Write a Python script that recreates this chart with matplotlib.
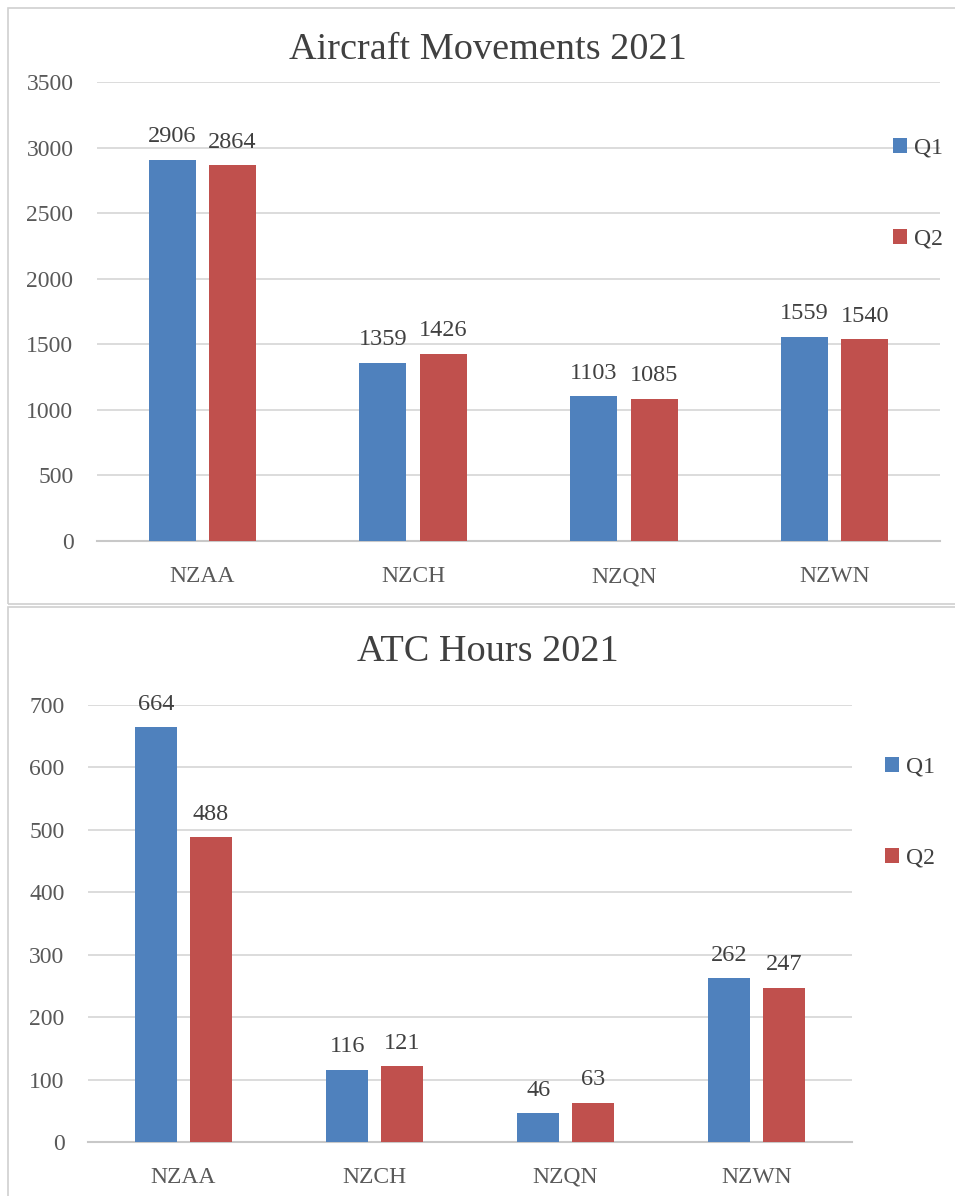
import matplotlib
matplotlib.use("Agg")
import matplotlib.pyplot as plt
from matplotlib.patches import Rectangle
import numpy as np

plt.rcParams['font.family'] = ['Liberation Serif', 'DejaVu Serif']

categories = ["NZAA", "NZCH", "NZQN", "NZWN"]
series_names = ["Q1", "Q2"]
movements_q1 = [2906, 1359, 1103, 1559]
movements_q2 = [2864, 1426, 1085, 1540]
atc_q1 = [664, 116, 46, 262]
atc_q2 = [488, 121, 63, 247]
title_top = "Aircraft Movements 2021"
title_bottom = "ATC Hours 2021"

BLUE = "#4F81BD"
RED = "#C0504D"
GRID = "#D9D9D9"
TXT = "#404040"
TICK = "#595959"

W, H = 955, 1196
fig = plt.figure(figsize=(W / 100, H / 100), dpi=100)

# chart frames
fig.add_artist(Rectangle((8 / W, 1 - 604 / H), (W + 20) / W, (604 - 8) / H,
                         transform=fig.transFigure, fill=False,
                         edgecolor="#D0D0D0", linewidth=1.2))
fig.add_artist(Rectangle((8 / W, -0.02), (W + 20) / W, (1 - 607 / H) + 0.02,
                         transform=fig.transFigure, fill=False,
                         edgecolor="#D0D0D0", linewidth=1.2))


def draw(ax, q1, q2, ymax, step, title, title_y, legend_anchor, legend_gap):
    x = np.arange(len(categories))
    width = 0.223
    off = 0.143
    b1 = ax.bar(x - off, q1, width, color=BLUE, label=series_names[0], zorder=3)
    b2 = ax.bar(x + off, q2, width, color=RED, label=series_names[1], zorder=3)
    for bars, vals in ((b1, q1), (b2, q2)):
        for rect, v in zip(bars, vals):
            ax.annotate(f"{v}", (rect.get_x() + rect.get_width() / 2, rect.get_height()),
                        xytext=(0, 9), textcoords="offset points",
                        ha="center", va="bottom", fontsize=17.5, color=TXT, zorder=4)
    ax.set_xlim(-0.5, len(categories) - 0.5)
    ax.set_ylim(0, ymax)
    ax.set_yticks(np.arange(0, ymax + 1, step))
    ax.set_xticks(x)
    ax.set_xticklabels(categories)
    ax.grid(axis="y", color=GRID, linewidth=1.3, zorder=0)
    ax.set_axisbelow(True)
    for s in ("top", "right", "left"):
        ax.spines[s].set_visible(False)
    ax.spines["bottom"].set_color("#C8C8C8")
    ax.spines["bottom"].set_linewidth(1.5)
    ax.tick_params(axis="both", length=0, labelsize=17, colors=TICK)
    ax.tick_params(axis="y", pad=17)
    ax.tick_params(axis="x", pad=18)
    fig.text(0.511, title_y, title, ha="center", va="center", fontsize=27.5, color=TXT)
    fig.legend(handles=[b1, b2], labels=series_names, loc="upper left",
               bbox_to_anchor=legend_anchor, frameon=False, fontsize=17,
               handlelength=0.6, handleheight=0.6, handletextpad=0.3,
               labelspacing=legend_gap, labelcolor=TXT, borderpad=0)


ax1 = fig.add_axes([97 / W, 1 - 541 / H, 843 / W, (541 - 82) / H])
draw(ax1, movements_q1, movements_q2, 3500, 500, title_top, 1 - 50 / H,
     (881 / W, 1 - 126 / H), 2.95)

ax2 = fig.add_axes([88 / W, 1 - 1142 / H, 764 / W, (1142 - 705) / H])
draw(ax2, atc_q1, atc_q2, 700, 100, title_bottom, 1 - 652 / H,
     (873 / W, 1 - 745 / H), 2.95)

fig.savefig("out.png", dpi=100)
